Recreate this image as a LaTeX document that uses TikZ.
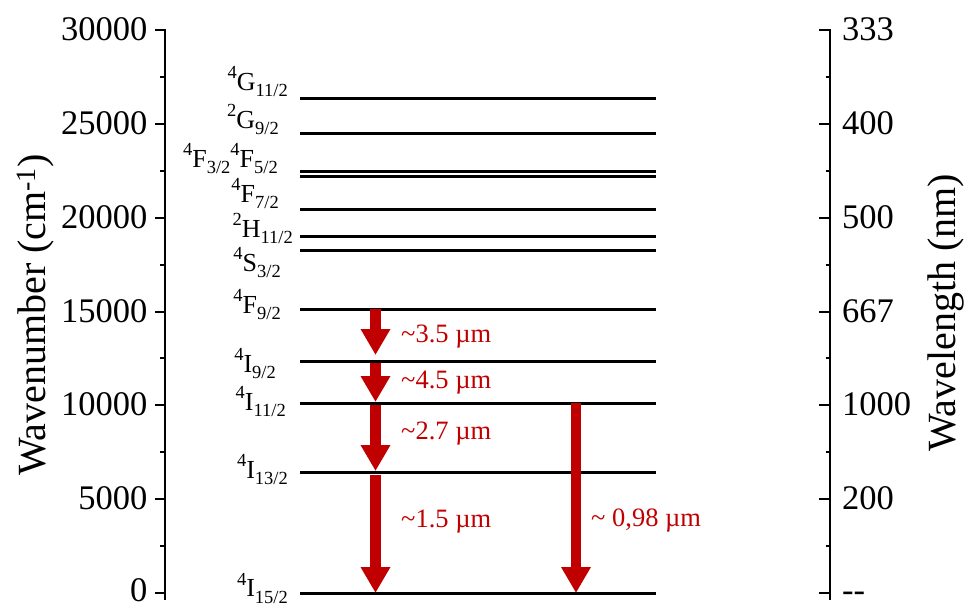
\documentclass[tikz,border=0pt]{standalone}
\usepackage{fontspec}
\setmainfont{Liberation Serif}
\usetikzlibrary{arrows.meta}
\definecolor{arrred}{RGB}{192,0,0}
\newcommand{\lv}[3]{\raisebox{11.5pt}{\fontsize{18.5}{18.5}\selectfont #1}#2\raisebox{-6.5pt}{\fontsize{18.5}{18.5}\selectfont #3}}
\newcommand{\tl}{\textasciitilde}
\begin{document}
\begin{tikzpicture}[x=1pt,y=-1pt,
  axis/.style={line width=2pt},
  level/.style={line width=3pt},
  ticklab/.style={font=\fontsize{34.5}{34.5}\selectfont, inner sep=0pt},
  lvlab/.style={font=\fontsize{26}{26}\selectfont, inner sep=0pt, anchor=base east},
  trans/.style={arrred, line width=10.5pt, -{Triangle[width=28pt,length=26pt]}},
  translab/.style={arrred, font=\fontsize{26.5}{26.5}\selectfont, inner sep=0pt, anchor=west},
  title/.style={font=\fontsize{40}{40}\selectfont, inner sep=0pt, rotate=90, anchor=base}
]
\useasboundingbox (0,0) rectangle (965,606);
% axes
\coordinate (la0) at (164.5,29);
\coordinate (la1) at (164.5,600);
\coordinate (ra0) at (830,29);
\coordinate (ra1) at (830,600);
\draw[axis] (la0) -- (la1);
\draw[axis] (ra0) -- (ra1);
% major ticks and labels
\foreach \k/\lab/\rlab/\off [count=\i] in {0/0/{-\kern0pt-}/8.5,1/5000/200/10.5,2/10000/1000/10.5,3/15000/667/10.5,4/20000/500/10.5,5/25000/400/10.5,6/30000/333/10.5}{
  \pgfmathsetmacro{\yy}{593-\k*93.833}
  \draw[axis] (155,\yy) -- (165.5,\yy);
  \draw[axis] (819,\yy) -- (831,\yy);
  \node[ticklab, anchor=base east] (lt\i) at (147.5,\yy+\off) {\lab};
  \node[ticklab, anchor=base west] (rt\i) at (842,\yy+\off) {\rlab};
}
% minor ticks
\foreach \k in {0.5,1.5,2.5,3.5,4.5,5.5}{
  \pgfmathsetmacro{\yy}{593-\k*93.833}
  \draw[axis] (160,\yy) -- (165.5,\yy);
  \draw[axis] (825.5,\yy) -- (831,\yy);
}
% titles
\node[title] (ytl) at (45,315) {Wavenumber (cm\textsuperscript{-1})};
\node[title] (ytr) at (955,313) {Wavelength (nm)};
% levels
\foreach \n/\yy in {G11/98,G9/133,F3/171,F5/176.5,F7/209,H11/236,S3/250,F9/309,I9/361,I11/403,I13/472,I15/593}{
  \coordinate (\n l) at (300,\yy);
  \coordinate (\n r) at (656,\yy);
  \draw[level] (\n l) -- (\n r);
}
% level labels
\node[lvlab] (lG11) at (288,90) {\lv{4}{G}{11/2}};
\node[lvlab] (lG9) at (279,128) {\lv{2}{G}{9/2}};
\node[lvlab] (lF35) at (278,167) {\lv{4}{F}{3/2}\lv{4}{F}{5/2}};
\node[lvlab] (lF7) at (279,202) {\lv{4}{F}{7/2}};
\node[lvlab] (lH11) at (293,237) {\lv{2}{H}{11/2}};
\node[lvlab] (lS3) at (281,271) {\lv{4}{S}{3/2}};
\node[lvlab] (lF9) at (281,313) {\lv{4}{F}{9/2}};
\node[lvlab] (lI9) at (276,372) {\lv{4}{I}{9/2}};
\node[lvlab] (lI11) at (286,410) {\lv{4}{I}{11/2}};
\node[lvlab] (lI13) at (288,478) {\lv{4}{I}{13/2}};
\node[lvlab] (lI15) at (288,596.5) {\lv{4}{I}{15/2}};
% transitions
\coordinate (a1s) at (375.5,309);  \coordinate (a1e) at (375.5,355);
\coordinate (a2s) at (375.5,363);  \coordinate (a2e) at (375.5,402);
\coordinate (a3s) at (375.5,405);  \coordinate (a3e) at (375.5,471);
\coordinate (a4s) at (375.5,475);  \coordinate (a4e) at (375.5,593);
\coordinate (a5s) at (576,403);    \coordinate (a5e) at (576,593);
\draw[trans] (a1s) -- (a1e);
\draw[trans] (a2s) -- (a2e);
\draw[trans] (a3s) -- (a3e);
\draw[trans] (a4s) -- (a4e);
\draw[trans] (a5s) -- (a5e);
\node[translab] (t1) at (401,337) {\tl3.5 µm};
\node[translab] (t2) at (401,383) {\tl4.5 µm};
\node[translab] (t3) at (401,434) {\tl2.7 µm};
\node[translab] (t4) at (401,522) {\tl1.5 µm};
\node[translab] (t5) at (591,520) {\tl{} 0,98 µm};
\end{tikzpicture}
\end{document}
